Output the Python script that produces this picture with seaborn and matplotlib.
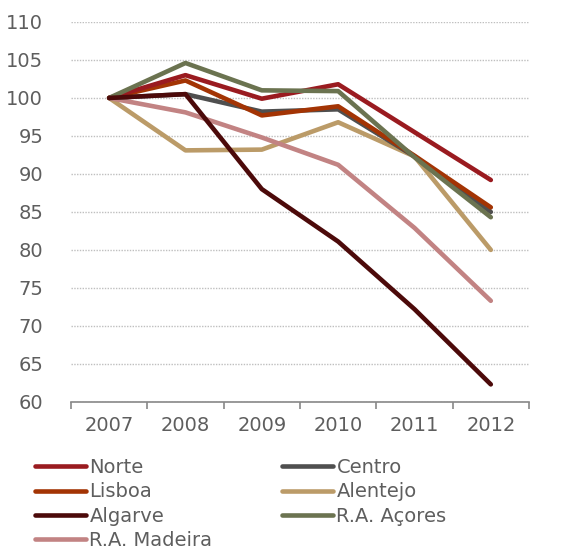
import matplotlib
matplotlib.use("Agg")
import matplotlib.pyplot as plt
import seaborn as sns
import pandas as pd
from matplotlib.lines import Line2D

years = ["2007", "2008", "2009", "2010", "2011", "2012"]
norte = [100, 103.0, 99.9, 101.8, 95.5, 89.2]
centro = [100, 100.5, 98.2, 98.5, 92.3, 85.0]
lisboa = [100, 102.3, 97.7, 98.9, 92.4, 85.6]
alentejo = [100, 93.1, 93.2, 96.8, 92.3, 80.0]
algarve = [100, 100.5, 88.0, 81.1, 72.2, 62.3]
acores = [100, 104.6, 101.0, 100.9, 92.2, 84.3]
madeira = [100, 98.1, 94.8, 91.2, 82.9, 73.3]

series = {
    "Norte": norte,
    "Centro": centro,
    "Lisboa": lisboa,
    "Alentejo": alentejo,
    "Algarve": algarve,
    "R.A. Açores": acores,
    "R.A. Madeira": madeira,
}
colors = {
    "Norte": "#9A1B20",
    "Centro": "#4F4F4F",
    "Lisboa": "#A33404",
    "Alentejo": "#BB9B68",
    "Algarve": "#4C0A0A",
    "R.A. Açores": "#6B7350",
    "R.A. Madeira": "#C28383",
}
draw_order = ["Alentejo", "R.A. Madeira", "Centro", "Lisboa", "Norte", "R.A. Açores", "Algarve"]

rows = []
for name, vals in series.items():
    for i, v in enumerate(vals):
        rows.append({"x": i, "year": years[i], "value": v, "region": name})
df = pd.DataFrame(rows)

sns.set_theme(style="white")
plt.rcParams["font.family"] = ["DejaVu Sans"]
txt = "#5E5E5E"
fs = 14

fig = plt.figure(figsize=(5.66, 5.49), dpi=100)
ax = fig.add_axes([0.1254, 0.268, 0.8092, 0.692])

for name in draw_order:
    sub = df[df.region == name]
    sns.lineplot(data=sub, x="x", y="value", color=colors[name], lw=3.3,
                 ax=ax, legend=False, solid_capstyle="round", solid_joinstyle="round")

ax.set_xlim(-0.5, 5.5)
ax.set_ylim(60, 110)
ax.set_yticks(range(60, 111, 5))
ax.set_xticks(range(6))
ax.set_xticklabels(years)
ax.set_xticks([i - 0.5 for i in range(7)], minor=True)
ax.tick_params(axis="x", which="major", length=0, pad=10, labelsize=fs, colors=txt)
ax.tick_params(axis="x", which="minor", bottom=True, length=5, width=1.2, color="#888888", direction="out")
ax.tick_params(axis="y", length=0, pad=20, labelsize=fs, colors=txt)
ax.set_xlabel("")
ax.set_ylabel("")
for s in ["top", "right", "left"]:
    ax.spines[s].set_visible(False)
ax.spines["bottom"].set_color("#888888")
ax.spines["bottom"].set_linewidth(1.2)
ax.yaxis.grid(True, linestyle=(0, (1, 1)), color="#BFBFBF", lw=1)
ax.set_axisbelow(True)

col1 = ["Norte", "Lisboa", "Algarve", "R.A. Madeira"]
col2 = ["Centro", "Alentejo", "R.A. Açores"]
legs = []
for names, x0 in ((col1, 35 / 566), (col2, 282 / 566)):
    handles = [Line2D([0], [0], color=colors[n], lw=3.3, solid_capstyle="round") for n in names]
    leg = fig.legend(handles, names, loc="upper left", bbox_to_anchor=(x0, 0.166),
                     frameon=False, fontsize=fs, handlelength=2.6, handletextpad=0.2,
                     labelspacing=0.28, borderaxespad=0, borderpad=0)
    for t in leg.get_texts():
        t.set_color(txt)
    legs.append(leg)

fig.savefig("out.png", dpi=100)
